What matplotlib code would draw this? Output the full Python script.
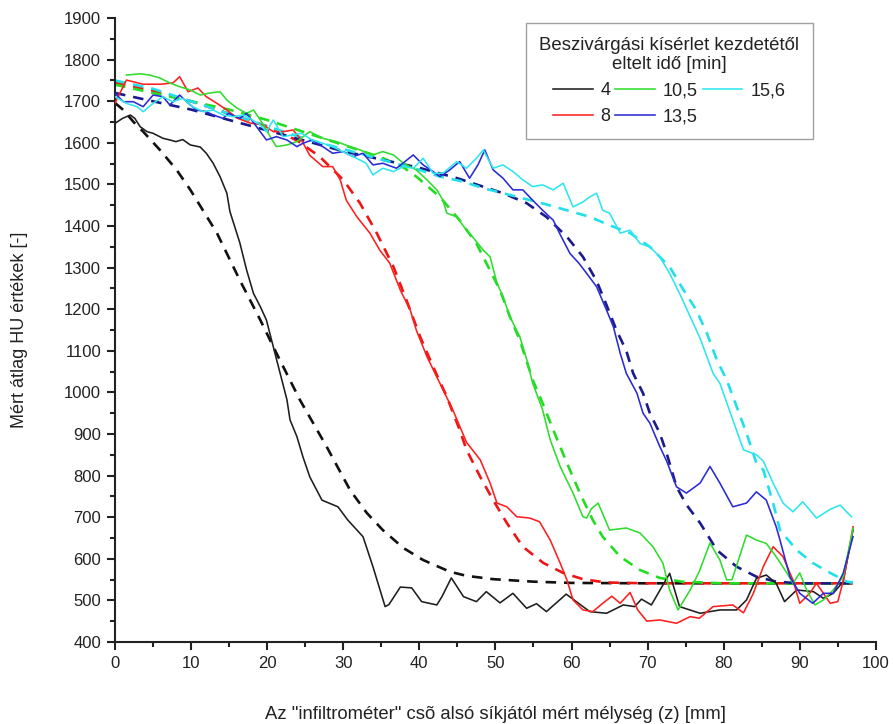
import matplotlib
matplotlib.use("Agg")
import matplotlib.pyplot as plt
from matplotlib.ticker import MultipleLocator

plt.rcParams['font.family'] = ['Liberation Sans', 'DejaVu Sans']

# ---- data ----
legend_title = "Beszivárgási kísérlet kezdetétől\neltelt idő [min]"
series_labels = ["4", "8", "10,5", "13,5", "15,6"]

# 4 min - measured
x4 = [0, 1, 2, 2.6, 3.3, 4.2, 5, 6.3, 7.2, 8, 8.9, 9.9, 11.2, 12, 12.9, 13.8, 14.7, 15.1, 16.4, 17.3,
      18.2, 19.1, 19.9, 20.8, 21.7, 22.6, 23.0, 23.9, 24.7, 25.6, 27.2, 29.3, 30.6, 32.6, 33.9, 35.5,
      36, 37.5, 39, 40.3, 42.3, 43, 44.2, 45.8, 47.5, 48.8, 50.6, 52.3, 54.1, 55.4, 56.7, 59.3, 62.4,
      64.6, 66.8, 68.3, 69.2, 70.5, 72.9, 74.2, 76.9, 79.5, 81.7, 83, 84.3, 85.6, 86.9, 88, 89.6, 91.8,
      93.1, 94.4, 95.7, 97]
y4 = [1647, 1659, 1667, 1659, 1639, 1627, 1623, 1611, 1607, 1603, 1608, 1595, 1590, 1575, 1551, 1519,
      1479, 1435, 1360, 1294, 1238, 1206, 1174, 1110, 1046, 982, 934, 894, 845, 797, 741, 725, 693, 653,
      581, 485, 490, 532, 530, 497, 489, 510, 554, 509, 497, 521, 494, 517, 481, 492, 473, 515, 473, 469,
      489, 485, 503, 489, 565, 485, 469, 477, 477, 501, 553, 561, 541, 497, 525, 521, 505, 517, 545, 669]
# 4 min - fit
xd4 = [0, 1.1, 2.4, 3.7, 5.9, 8.1, 9.9, 13.4, 16.4, 19.1, 21.2, 24.3, 27.8, 30.9, 33.1, 35.2, 37.9,
       40.5, 44, 46.2, 49.7, 55, 60, 70, 80, 90, 97]
yd4 = [1696, 1679, 1651, 1627, 1583, 1535, 1487, 1383, 1270, 1174, 1095, 982, 870, 765, 710, 669, 626,
       597, 569, 559, 551, 545, 542, 541, 541, 541, 541]

# 8 min - measured
x8 = [0, 1.5, 3.7, 5.9, 7.6, 8.5, 9.6, 10.9, 12, 13.4, 14.7, 16, 17.7, 19.5, 20.8, 22.1, 23.4, 24.5,
      25.6, 27.3, 28.6, 29.6, 30.4, 31.8, 33.5, 34.8, 36.1, 37.5, 38.8, 39.6, 41, 42.7, 44.4, 46.2, 48,
      49.3, 50.2, 51.5, 52.8, 54.5, 55.8, 57.2, 58.5, 59.4, 60.2, 61.5, 62.8, 64.1, 65.3, 66.4, 67.7,
      68.7, 69.9, 71.6, 73.8, 75.6, 76.8, 78.6, 81.2, 82.6, 83.9, 85.2, 86.5, 87.8, 89.1, 90, 91.3, 92.2,
      94, 95, 95.8, 97]
y8 = [1696, 1751, 1741, 1741, 1744, 1759, 1723, 1732, 1711, 1695, 1679, 1660, 1648, 1643, 1627, 1627,
      1631, 1607, 1570, 1543, 1543, 1511, 1462, 1422, 1383, 1342, 1311, 1246, 1198, 1150, 1086, 1022,
      958, 880, 838, 782, 734, 725, 701, 698, 689, 645, 590, 549, 501, 477, 473, 493, 510, 493, 519, 477,
      450, 453, 445, 461, 457, 485, 489, 470, 517, 581, 629, 605, 549, 493, 517, 541, 493, 497, 553, 677]
# 8 min - fit
xd8 = [0, 5, 10, 15, 20, 24, 26.9, 30, 32.2, 34.4, 36.6, 38.3, 40.1, 41.8, 43.6, 45.3, 46.2, 48, 49.7,
       51.5, 53.6, 56.3, 58.9, 61.5, 64.5, 70, 80, 90, 97]
yd8 = [1745, 1725, 1700, 1670, 1640, 1605, 1567, 1511, 1455, 1383, 1302, 1222, 1134, 1062, 990, 910,
       862, 797, 741, 686, 629, 590, 566, 551, 543, 541, 541, 541, 541]

# 10,5 min - measured
x10 = [1.5, 3.3, 4.6, 5.9, 7.2, 8.5, 9.9, 11.2, 12.5, 13.8, 14.7, 16, 17.3, 18.2, 19.1, 20.4, 21.2,
       22.6, 23.9, 25.6, 27.3, 29.1, 30.9, 32.2, 33.9, 35.2, 36.6, 37.9, 39.6, 41, 42.3, 43.1, 43.6,
       44.9, 46.2, 47, 48.4, 49.3, 50.2, 51, 51.9, 53.2, 54.1, 54.9, 56.2, 57.2, 58.5, 60.2, 61.5, 62,
       62.6, 63.5, 65, 67.2, 69, 70.7, 72, 72.9, 74, 75.6, 76.8, 78.2, 79.5, 80.4, 81.1, 83, 84.3, 85.6,
       86.9, 88.3, 89.1, 90, 90.9, 92, 93.1, 94.4, 95.7, 97]
y10 = [1763, 1766, 1763, 1756, 1744, 1735, 1727, 1715, 1720, 1723, 1703, 1684, 1671, 1679, 1655, 1615,
       1591, 1595, 1603, 1627, 1611, 1603, 1591, 1583, 1571, 1579, 1571, 1551, 1535, 1511, 1487, 1462,
       1431, 1422, 1390, 1374, 1342, 1326, 1263, 1230, 1182, 1134, 1080, 1022, 958, 886, 822, 758, 701,
       698, 720, 734, 669, 674, 662, 629, 590, 525, 477, 525, 570, 638, 597, 549, 550, 657, 645, 637,
       605, 566, 541, 566, 525, 489, 501, 525, 557, 673]
# 10,5 min - fit
xd10 = [0, 5, 10, 15, 20, 25, 30, 35, 38, 39.6, 42.7, 45.3, 47.5, 50.6, 51.9, 53.2, 54.9, 56.2, 57.6,
        59.4, 61.1, 62.8, 64.1, 66.4, 69, 71.6, 74.5, 80, 90, 97]
yd10 = [1740, 1720, 1700, 1680, 1655, 1625, 1595, 1565, 1540, 1519, 1470, 1414, 1358, 1246, 1182, 1126,
        1030, 974, 910, 830, 758, 693, 653, 605, 573, 554, 545, 541, 541, 541]

# 13,5 min - measured
x13 = [0, 1.1, 2.4, 3.7, 5, 6.3, 7.2, 8.5, 9.4, 10.7, 12, 12.9, 14.2, 14.9, 16.4, 17.3, 18.6, 19.9,
       21.2, 22.6, 23.9, 24.7, 25.9, 27.3, 28.6, 30, 31.3, 32.6, 33.9, 35.2, 37, 39.2, 40.5, 41.8, 42.7,
       44, 45.3, 46.6, 47.7, 48.6, 49.7, 51, 52.3, 53.6, 54.9, 56.2, 57.6, 58.5, 59.8, 61, 62, 63.3,
       64.6, 65.5, 66.4, 67.2, 68.6, 69.4, 70.3, 71.6, 72.5, 73.8, 75.1, 76.9, 78.2, 79.5, 81.2, 83,
       84.3, 85.6, 86.9, 87.4, 88.7, 90, 91.7, 93.1, 94.4, 95.7, 97]
y13 = [1719, 1699, 1699, 1687, 1715, 1711, 1691, 1715, 1699, 1679, 1675, 1667, 1659, 1671, 1659, 1671,
       1639, 1607, 1615, 1607, 1591, 1599, 1607, 1591, 1575, 1579, 1567, 1575, 1547, 1551, 1539, 1571,
       1547, 1531, 1519, 1535, 1555, 1515, 1547, 1583, 1535, 1515, 1487, 1487, 1462, 1438, 1414, 1380,
       1334, 1310, 1286, 1254, 1198, 1158, 1094, 1046, 998, 950, 926, 870, 835, 773, 758, 782, 822, 782,
       725, 734, 761, 741, 677, 645, 557, 517, 493, 517, 517, 565, 653]
# 13,5 min - fit
xd13 = [0, 5, 10, 15, 20, 25, 30, 35, 40, 45, 51, 54.1, 56.7, 59.4, 61.5, 63.3, 64.6, 65.9, 67.2, 68.1,
        69.4, 70.3, 71.6, 72.5, 73.8, 75.1, 76.9, 79.1, 81.7, 84.3, 86.9, 90, 97]
yd13 = [1720, 1700, 1680, 1655, 1630, 1605, 1580, 1560, 1540, 1515, 1479, 1455, 1422, 1374, 1326, 1268,
        1210, 1150, 1100, 1046, 998, 950, 902, 854, 773, 730, 686, 621, 581, 557, 545, 541, 541]

# 15,6 min - measured
x15 = [0, 1.5, 2.9, 3.7, 5, 6.3, 7.6, 8.9, 10.2, 11.6, 12.9, 14.2, 15.5, 16.9, 17.7, 19.1, 19.9, 20.8,
       22.1, 24.5, 25.9, 27.3, 28.6, 29.9, 31.3, 33, 33.9, 35.2, 36.6, 37.9, 39.2, 40.5, 41.8, 43.1,
       44.9, 46.2, 47.5, 48.4, 49.7, 51, 52.3, 53.6, 54.9, 56.2, 57.6, 58.9, 60.2, 61.5, 62.4, 63.3,
       64.1, 65, 66.4, 67.7, 69, 70.3, 71.6, 72.9, 74.2, 75.6, 76.9, 78.6, 79.5, 81.2, 82.6, 84.3, 85.2,
       86.5, 87.8, 89.1, 90.4, 92.2, 94, 95.3, 96.8]
y15 = [1711, 1695, 1687, 1675, 1695, 1711, 1699, 1707, 1687, 1675, 1679, 1667, 1663, 1667, 1659, 1643,
       1627, 1655, 1615, 1623, 1607, 1599, 1591, 1579, 1567, 1551, 1523, 1539, 1531, 1543, 1539, 1563,
       1527, 1527, 1555, 1539, 1563, 1583, 1539, 1547, 1531, 1511, 1495, 1499, 1487, 1503, 1446, 1458,
       1470, 1479, 1438, 1431, 1383, 1390, 1358, 1350, 1326, 1286, 1238, 1182, 1130, 1046, 1022, 934,
       862, 850, 835, 782, 734, 713, 737, 698, 719, 729, 701]
# 15,6 min - fit
xd15 = [0, 5, 10, 15, 20, 25, 30, 35, 40, 42.7, 45.7, 48.4, 51, 56.7, 59.4, 62.4, 65, 67.7, 70.3, 72.9,
        74.6, 76.4, 77.8, 79.1, 80.4, 81.7, 83, 84.3, 85.2, 86.5, 87.4, 89.6, 91.7, 94, 96.2, 97]
yd15 = [1750, 1730, 1700, 1670, 1640, 1610, 1585, 1560, 1535, 1519, 1507, 1491, 1479, 1452, 1438, 1422,
        1402, 1383, 1350, 1302, 1250, 1198, 1142, 1078, 1030, 966, 902, 830, 814, 734, 669, 621, 590,
        566, 545, 543]

# ---- styling ----
solid_colors = ['#1e1e1e', '#ff1f1f', '#2fdc2f', '#2a2ad6', '#2ee6ee']
dash_colors = ['#111111', '#ee1515', '#22dd22', '#1a1a8a', '#22e0ea']

fig = plt.figure(figsize=(8.93, 7.24), dpi=100)
ax = fig.add_axes([0.1288, 0.1133, 0.852, 0.8617])

measured = [(x4, y4), (x8, y8), (x10, y10), (x13, y13), (x15, y15)]
fits = [(xd4, yd4), (xd8, yd8), (xd10, yd10), (xd13, yd13), (xd15, yd15)]

handles = []
for (xs, ys), (xf, yf), c, dc, lab in zip(measured, fits, solid_colors, dash_colors, series_labels):
    ax.plot(xf, yf, color=dc, lw=1.9, dashes=(4.0, 3.0), zorder=2)
    h, = ax.plot(xs, ys, color=c, lw=1.15, label=lab, zorder=3)
    handles.append(h)

ax.set_xlim(0, 100)
ax.set_ylim(400, 1900)
ax.xaxis.set_major_locator(MultipleLocator(10))
ax.xaxis.set_minor_locator(MultipleLocator(5))
ax.yaxis.set_major_locator(MultipleLocator(100))
ax.yaxis.set_minor_locator(MultipleLocator(50))

for s in ['top', 'right']:
    ax.spines[s].set_visible(False)
for s in ['left', 'bottom']:
    ax.spines[s].set_linewidth(1.5)
    ax.spines[s].set_color('#222222')

ax.tick_params(axis='both', which='major', direction='out', length=6, width=1.5,
               labelsize=12, colors='#222222', pad=4)
ax.tick_params(axis='both', which='minor', direction='out', length=3.5, width=1.5, colors='#222222')

ax.set_xlabel('Az "infiltrométer" csõ alsó síkjától mért mélység (z) [mm]', fontsize=13.3,
              color='#222222', labelpad=25)
ax.set_ylabel('Mért átlag HU értékek [-]', fontsize=13, color='#222222', labelpad=26)

leg = ax.legend(handles=handles, labels=series_labels, title=legend_title, ncol=3,
                loc='upper right', bbox_to_anchor=(0.917, 0.992), borderaxespad=0.0,
                fontsize=13, title_fontsize=13.4, frameon=True, fancybox=False,
                handlelength=2.2, handletextpad=0.45, columnspacing=0.25,
                borderpad=0.75, labelspacing=0.5)
leg.get_frame().set_edgecolor('#888888')
leg.get_frame().set_linewidth(1.0)
for t in leg.get_texts():
    t.set_color('#222222')
ttl = leg.get_title()
ttl.set_color('#222222')
ttl.set_multialignment('center')

fig.savefig('out.png', dpi=100)
